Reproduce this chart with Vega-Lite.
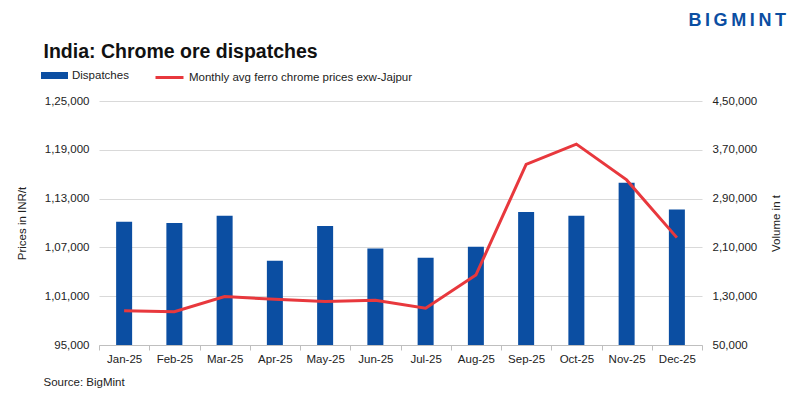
{
  "$schema": "https://vega.github.io/schema/vega-lite/v6.json",
  "width": 603,
  "height": 244,
  "autosize": {"type": "none"},
  "padding": {"left": 99, "top": 101, "right": 98, "bottom": 54},
  "background": "white",
  "config": {
    "font": "Liberation Sans",
    "view": {"stroke": null},
    "axis": {"labelFont": "Liberation Sans", "titleFont": "Liberation Sans", "labelFontSize": 11.5, "labelColor": "#222222", "titleFontSize": 11.5, "titleFontWeight": "normal", "titleColor": "#222222"},
    "legend": {"labelFont": "Liberation Sans", "labelFontSize": 11.5, "labelColor": "#222222", "padding": 0, "labelLimit": 0}
  },
  "title": {
    "text": "B\u2009I\u2009G\u2009M\u2009I\u2009N\u2009T",
    "anchor": "end",
    "frame": "group",
    "fontSize": 18,
    "fontWeight": "bold",
    "color": "#0b4ea2",
    "dx": 84,
    "dy": -7
  },
  "data": {
    "values": [
      {"month": "Jan-25", "volume": 252000, "price": 99200},
      {"month": "Feb-25", "volume": 250000, "price": 99100},
      {"month": "Mar-25", "volume": 262000, "price": 100950},
      {"month": "Apr-25", "volume": 188000, "price": 100630},
      {"month": "May-25", "volume": 245000, "price": 100340},
      {"month": "Jun-25", "volume": 208000, "price": 100500},
      {"month": "Jul-25", "volume": 193000, "price": 99520},
      {"month": "Aug-25", "volume": 211000, "price": 103600},
      {"month": "Sep-25", "volume": 268000, "price": 117200},
      {"month": "Oct-25", "volume": 262000, "price": 119700},
      {"month": "Nov-25", "volume": 316000, "price": 115300},
      {"month": "Dec-25", "volume": 272000, "price": 108200}
    ]
  },
  "layer": [
    {
      "mark": {"type": "bar", "size": 16, "clip": true},
      "encoding": {
        "x": {
          "field": "month", "type": "ordinal", "sort": null,
          "scale": {"paddingInner": 0, "paddingOuter": 0},
          "axis": {
            "orient": "bottom", "labelAngle": 0, "tickBand": "extent", "grid": false,
            "domainColor": "#bfbfbf", "tickColor": "#bfbfbf", "tickSize": 5, "labelPadding": 3,
            "title": "Source: BigMint", "titleAnchor": "start", "titleAlign": "left", "titleX": -56, "titleY": 40, "titleBaseline": "alphabetic"
          }
        },
        "y": {
          "field": "volume", "type": "quantitative",
          "scale": {"domain": [50000, 450000], "zero": false, "nice": false},
          "axis": {
            "orient": "right", "values": [50000, 130000, 210000, 290000, 370000, 450000],
            "labelExpr": "datum.value >= 100000 ? floor(datum.value/100000) + ',' + slice('0' + floor((datum.value % 100000)/1000), -2) + ',' + slice('00' + (datum.value % 1000), -3) : format(datum.value, ',')",
            "grid": false, "domain": false, "ticks": false, "labelPadding": 10,
            "title": "Volume in t", "titlePadding": 14, "titleAngle": -90, "titleBaseline": "top"
          }
        },
        "fill": {
          "datum": "Dispatches",
          "scale": {"range": ["#0b4ea2"]},
          "legend": {"orient": "none", "legendX": -58, "legendY": -39, "title": null, "symbolType": "M-1,-0.26H1V0.26H-1Z", "symbolSize": 729, "symbolStrokeWidth": 0}
        }
      }
    },
    {
      "mark": {"type": "line", "strokeWidth": 3},
      "encoding": {
        "x": {
          "field": "month", "type": "ordinal", "sort": null,
          "axis": {
            "orient": "top", "labels": false, "ticks": false, "domain": false, "grid": false,
            "title": "India: Chrome ore dispatches", "titleFontSize": 19.5, "titleFontWeight": "bold", "titleColor": "#111111",
            "titleAnchor": "start", "titleAlign": "left", "titleX": -56, "titleY": -44, "titleBaseline": "alphabetic"
          }
        },
        "y": {
          "field": "price", "type": "quantitative",
          "scale": {"domain": [95000, 125000], "zero": false, "nice": false},
          "axis": {
            "orient": "left", "values": [95000, 101000, 107000, 113000, 119000, 125000],
            "labelExpr": "datum.value >= 100000 ? floor(datum.value/100000) + ',' + slice('0' + floor((datum.value % 100000)/1000), -2) + ',' + slice('00' + (datum.value % 1000), -3) : format(datum.value, ',')",
            "grid": true, "gridColor": "#d9d9d9", "domain": false, "ticks": false, "labelPadding": 10,
            "title": "Prices in INR/t", "titlePadding": 17
          }
        },
        "stroke": {
          "datum": "Monthly avg ferro chrome prices exw-Jajpur",
          "scale": {"range": ["#e8383d"]},
          "legend": {"orient": "none", "legendX": 55, "legendY": -39, "title": null, "symbolType": "stroke", "symbolSize": 784, "symbolStrokeWidth": 3}
        }
      }
    }
  ],
  "resolve": {"scale": {"y": "independent"}, "axis": {"x": "independent"}}
}
